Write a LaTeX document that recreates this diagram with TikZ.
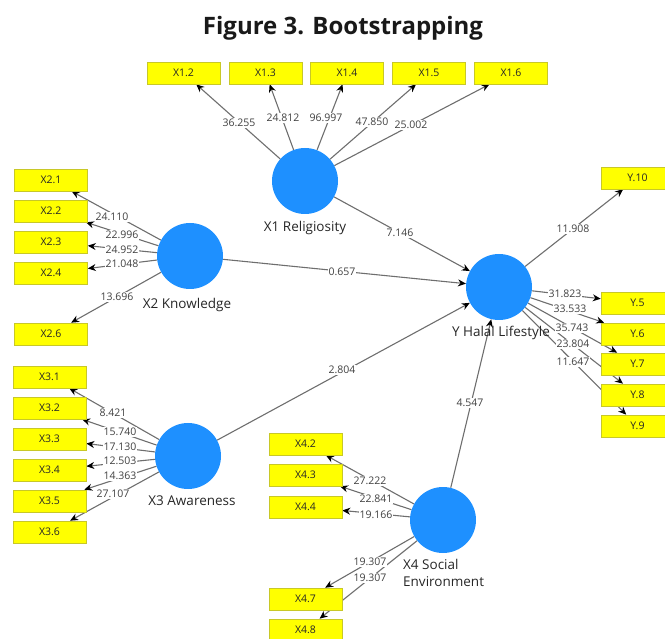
\documentclass[tikz,border=0pt]{standalone}
\usepackage{fontspec}
\setmainfont{Open Sans}
\usetikzlibrary{arrows.meta,backgrounds}
\definecolor{plsblue}{RGB}{30,144,255}
\definecolor{plsyellow}{RGB}{255,255,0}
\definecolor{plsborder}{RGB}{200,200,40}
\definecolor{linegray}{RGB}{110,110,110}
\tikzset{
  lv/.style={circle, fill=plsblue, minimum size=66pt, inner sep=0pt},
  ind/.style={rectangle, fill=plsyellow, draw=plsborder, line width=0.6pt,
    minimum width=73pt, minimum height=22pt, inner sep=0pt,
    font=\fontsize{10.5}{12}\selectfont, text=black!85},
  lvlabel/.style={font=\fontsize{13.5}{17}\selectfont, text=black!85},
  coef/.style={fill=white, inner sep=0.8pt, font=\fontsize{10.5}{12}\selectfont, text=black!75},
  link/.style={draw=linegray, line width=1.1pt, -{Stealth[length=8pt,width=7pt,color=black]}}
}
\begin{document}
\begin{tikzpicture}[x=1pt,y=-1pt]
\useasboundingbox (0,0) rectangle (665,639);
\clip (0,0) rectangle (665,639);
% title
\node[anchor=base, font=\fontsize{24}{28}\selectfont\bfseries, text=black!90] (title) at (343,35) {Figure 3. Bootstrapping};
% latent variables
\node[lv] (X1) at (305,181) {};
\node[lv] (X2) at (190,256) {};
\node[lv] (X3) at (188,456) {};
\node[lv] (X4) at (443,520) {};
\node[lv] (Y) at (499,287) {};
\node[lvlabel] (X1l) at (305,228) {X1 Religiosity};
\node[lvlabel] (X2l) at (187,305) {X2 Knowledge};
\node[lvlabel] (X3l) at (192,501) {X3 Awareness};
\node[lvlabel, anchor=north west, align=left, inner sep=0pt] (X4l) at (403,559) {X4 Social\\Environment};
\node[lvlabel] (Yl) at (501,333) {Y Halal Lifestyle};
% indicators
\node[ind] (x12) at (183.5,73) {X1.2};
\node[ind] (x13) at (265.5,73) {X1.3};
\node[ind] (x14) at (347,73) {X1.4};
\node[ind] (x15) at (429,73) {X1.5};
\node[ind] (x16) at (511,73) {X1.6};
\node[ind] (x21) at (51,180) {X2.1};
\node[ind] (x22) at (51,211) {X2.2};
\node[ind] (x23) at (51,242) {X2.3};
\node[ind] (x24) at (51,273) {X2.4};
\node[ind] (x26) at (51,334) {X2.6};
\node[ind] (x31) at (49.5,377) {X3.1};
\node[ind] (x32) at (49.5,408) {X3.2};
\node[ind] (x33) at (49.5,439) {X3.3};
\node[ind] (x34) at (49.5,470) {X3.4};
\node[ind] (x35) at (49.5,501) {X3.5};
\node[ind] (x36) at (49.5,532) {X3.6};
\node[ind] (x42) at (305.5,444) {X4.2};
\node[ind] (x43) at (305.5,475) {X4.3};
\node[ind] (x44) at (305.5,507) {X4.4};
\node[ind] (x47) at (305.5,599) {X4.7};
\node[ind] (x48) at (305.5,630) {X4.8};
\node[ind] (y10) at (637.5,178) {Y.10};
\node[ind] (y5) at (637.5,303) {Y.5};
\node[ind] (y6) at (637.5,334) {Y.6};
\node[ind] (y7) at (637.5,364) {Y.7};
\node[ind] (y8) at (637.5,395) {Y.8};
\node[ind] (y9) at (637.5,426) {Y.9};
% connectors
\begin{scope}[on background layer]
\foreach \t in {x12,x13,x14,x15,x16} \draw[link] (X1) -- (\t);
\foreach \t in {x21,x22,x23,x24,x26} \draw[link] (X2) -- (\t);
\foreach \t in {x31,x32,x33,x34,x35,x36} \draw[link] (X3) -- (\t);
\foreach \t in {x42,x43,x44,x47,x48} \draw[link] (X4) -- (\t);
\foreach \t in {y10,y5,y6,y7,y8,y9} \draw[link] (Y) -- (\t);
\foreach \s in {X1,X2,X3,X4} \draw[link] (\s) -- (Y);
\end{scope}
% coefficients
\node[coef] (c12) at (239,123) {36.255};
\node[coef] (c13) at (283,118) {24.812};
\node[coef] (c14) at (326,118) {96.997};
\node[coef] (c15) at (372,122) {47.850};
\node[coef] (c16) at (411,125) {25.002};
\node[coef] (c21) at (112,217) {24.110};
\node[coef] (c22) at (122,235) {22.996};
\node[coef] (c23) at (122,250) {24.952};
\node[coef] (c24) at (122,264) {21.048};
\node[coef] (c26) at (117,297) {13.696};
\node[coef] (c31) at (113,413) {8.421};
\node[coef] (c32) at (120,432) {15.740};
\node[coef] (c33) at (120,447) {17.130};
\node[coef] (c34) at (120,461) {12.503};
\node[coef] (c35) at (120,476) {14.363};
\node[coef] (c36) at (113,494) {27.107};
\node[coef] (c42) at (370,481) {27.222};
\node[coef] (c43) at (376,499) {22.841};
\node[coef] (c44) at (376,515) {19.166};
\node[coef] (c47) at (370,562) {19.307};
\node[coef] (c48) at (370,578) {19.307};
\node[coef] (cy10) at (573,229) {11.908};
\node[coef] (cy5) at (565,294) {31.823};
\node[coef] (cy6) at (570,309) {33.533};
\node[coef] (cy7) at (572,328) {35.743};
\node[coef] (cy8) at (573,344) {23.804};
\node[coef] (cy9) at (573,362) {11.647};
\node[coef] (cx1) at (400,233) {7.146};
\node[coef] (cx2) at (342,272) {0.657};
\node[coef] (cx3) at (342,370) {2.804};
\node[coef] (cx4) at (470,403) {4.547};
\end{tikzpicture}
\end{document}
